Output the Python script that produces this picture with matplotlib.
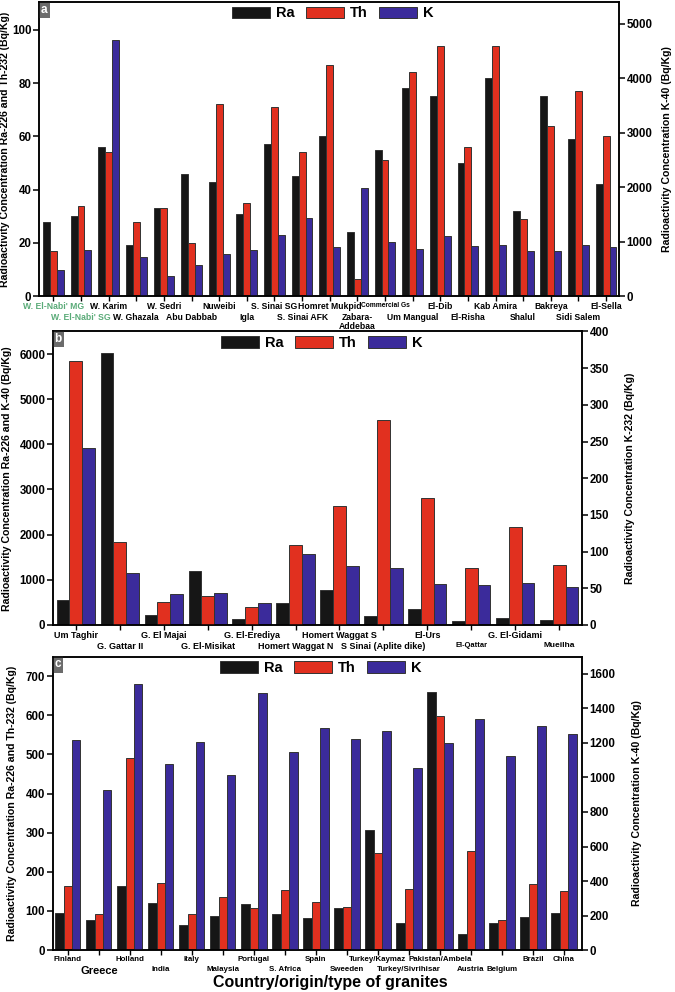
import matplotlib.pyplot as plt
import numpy as np

plt.rcParams['font.family'] = ['Liberation Sans', 'DejaVu Sans']
plt.rcParams['font.weight'] = 'bold'
plt.rcParams['axes.linewidth'] = 1.1

RA_COLOR = '#161616'
TH_COLOR = '#e1301f'
K_COLOR = '#3b2b9b'
EDGE = '#333333'
GREEN = '#5aab78'

# ---- panel a : Egyptian granites (Ra, Th left axis; K right axis)
a_sites = ["W. El-Nabi' MG", "W. El-Nabi' SG", "W. Karim", "W. Ghazala", "W. Sedri",
           "Abu Dabbab", "Nuweibi", "Igla", "S. Sinai SG", "S. Sinai AFK",
           "Homret Mukpid", "Zabara-\nAddebaa", "Commercial Gs", "Um Mangual", "El-Dib",
           "El-Risha", "Kab Amira", "Shalul", "Bakreya", "Sidi Salem", "El-Sella"]
a_ra = [28, 30, 56, 19, 33, 46, 43, 31, 57, 45, 60, 24, 55, 78, 75, 50, 82, 32, 75, 59, 42]
a_th = [17, 34, 54, 28, 33, 20, 72, 35, 71, 54, 87, 6.5, 51, 84, 94, 56, 94, 29, 64, 77, 60]
a_k = [480, 850, 4710, 720, 370, 570, 780, 850, 1120, 1430,
       900, 1990, 1000, 870, 1100, 920, 940, 830, 820, 930, 900]

# ---- panel b : (Ra, K left axis; Th right axis)
b_sites = ["Um Taghir", "G. Gattar II", "G. El Majai", "G. El-Misikat", "G. El-Erediya",
           "Homert Waggat N", "Homert Waggat S", "S Sinai (Aplite dike)", "El-Urs",
           "El-Qattar", "G. El-Gidami", "Mueilha"]
b_ra = [560, 6030, 210, 1190, 130, 480, 780, 200, 350, 90, 155, 110]
b_th = [360, 113, 31, 40, 25, 109, 162, 279, 173, 78, 134, 82]
b_k = [3920, 1150, 690, 710, 480, 1580, 1300, 1270, 900, 880, 935, 840]

# ---- panel c : world granites (Ra, Th left axis; K right axis)
c_sites = ["Finland", "Greece", "Holland", "India", "Italy", "Malaysia", "Portugal",
           "S. Africa", "Spain", "Sweeden", "Turkey/Kaymaz", "Turkey/Sivrihisar",
           "Pakistan/Ambela", "Austria", "Belgium", "Brazil", "China"]
c_lower = [False, True, False, True, False, True, False, True, False, True,
           False, True, False, True, True, False, False]
c_ra = [95, 78, 163, 120, 65, 87, 118, 93, 82, 107, 307, 68, 660, 40, 70, 84, 95]
c_th = [163, 91, 491, 172, 91, 135, 107, 153, 124, 111, 249, 155, 599, 253, 78, 169, 152]
c_k = [1220, 925, 1542, 1078, 1203, 1014, 1490, 1148, 1288, 1222,
       1267, 1055, 1199, 1337, 1125, 1298, 1251]


def bars(ax, x, vals, off, w, color):
    return ax.bar(x + off * w, vals, w, color=color, edgecolor=EDGE, linewidth=0.7)


def panel(rect, letter, sites, lower, series, twin_idx, w, xlim,
          ylim, y2lim, yticks, y2ticks, ylab, y2lab, ylab_x, y2lab_x, leg_x,
          xfs=6.5):
    ax = fig.add_axes(rect)
    ax2 = ax.twinx()
    x = np.arange(len(sites))
    names = ['Ra', 'Th', 'K']
    colors = [RA_COLOR, TH_COLOR, K_COLOR]
    handles = []
    for i, vals in enumerate(series):
        target = ax2 if i == twin_idx else ax
        handles.append(bars(target, x, vals, i - 1, w, colors[i]))
    ax.set_xlim(*xlim)
    ax.set_ylim(*ylim)
    ax2.set_ylim(*y2lim)
    ax.set_yticks(yticks)
    ax2.set_yticks(y2ticks)
    for a in (ax, ax2):
        a.tick_params(axis='y', direction='out', length=4, width=1.1,
                      labelsize=8.3, pad=1.5)
    ax.set_xticks(x)
    ax.set_xticklabels(sites, fontsize=xfs, fontweight='bold', linespacing=1.0)
    ax.tick_params(axis='x', direction='out', length=3.5, width=1.0, pad=1)
    # second row of labels: push down by one text line
    for tk, low in zip(ax.xaxis.get_major_ticks(), lower):
        if low:
            tk.set_pad(1 + xfs * 1.2)
    ax.set_ylabel(ylab, fontsize=7.6, fontweight='bold')
    ax2.set_ylabel(y2lab, fontsize=7.6, fontweight='bold')
    ax.yaxis.set_label_coords(ylab_x, 0.5)
    ax2.yaxis.set_label_coords(y2lab_x, 0.5)
    ax2.legend(handles, names, ncol=3, frameon=False, loc='upper left',
               bbox_to_anchor=(leg_x, 0.985), borderaxespad=0, borderpad=0,
               handlelength=2.6, handleheight=0.85, handletextpad=0.4,
               columnspacing=0.8, prop={'weight': 'bold', 'size': 10.5})
    ax.text(0.003, 0.994, letter, transform=ax.transAxes, ha='left', va='top',
            color='white', fontsize=8.5, fontweight='bold',
            bbox=dict(boxstyle='square,pad=0.18', fc='#6b6b6b', ec='none'))
    return ax, ax2


fig = plt.figure(figsize=(6.75, 9.92), dpi=100)

a_lower = [i % 2 == 1 for i in range(len(a_sites))]
axa, _ = panel([0.0578, 0.7016, 0.8593, 0.2964], 'a', a_sites, a_lower,
               [a_ra, a_th, a_k], 2, 0.25, (-0.52, 20.47),
               (0, 110.5), (0, 5400), range(0, 101, 20), range(0, 5001, 1000),
               'Radioactivity Concentration Ra-226 and Th-232 (Bq/Kg)',
               'Radioactivity Concentration K-40 (Bq/Kg)', -0.05, 1.074, 0.333,
               xfs=6.2)
ticks = axa.get_xticklabels()
ticks[0].set_color(GREEN)
ticks[1].set_color(GREEN)
ticks[12].set_fontsize(4.8)

b_lower = [i % 2 == 1 for i in range(len(b_sites))]
axb, _ = panel([0.0785, 0.370, 0.7837, 0.2959], 'b', b_sites, b_lower,
               [b_ra, b_th, b_k], 1, 0.29, (-0.52, 11.52),
               (0, 6500), (0, 400), range(0, 6001, 1000), range(0, 401, 50),
               'Radioactivity Concentration Ra-226 and K-40 (Bq/Kg)',
               'Radioactivity Concentration K-232 (Bq/Kg)', -0.078, 1.081, 0.318,
               xfs=6.5)
btk = axb.get_xticklabels()
btk[9].set_fontsize(5.4)
btk[11].set_fontsize(6.0)

axc, _ = panel([0.0781, 0.0423, 0.7841, 0.2957], 'c', c_sites, c_lower,
               [c_ra, c_th, c_k], 2, 0.27, (-0.49, 16.58),
               (0, 750), (0, 1700), range(0, 701, 100), range(0, 1601, 200),
               'Radioactivity Concentration Ra-226 and Th-232 (Bq/Kg)',
               'Radioactivity Concentration K-40 (Bq/Kg)', -0.068, 1.095, 0.316,
               xfs=5.7)
ctk = axc.get_xticklabels()
ctk[1].set_fontsize(8.0)
axc.set_xlabel('Country/origin/type of granites', fontsize=11.5, fontweight='bold')
axc.xaxis.set_label_coords(0.524, -0.085)

fig.savefig('out.png', dpi=100)
